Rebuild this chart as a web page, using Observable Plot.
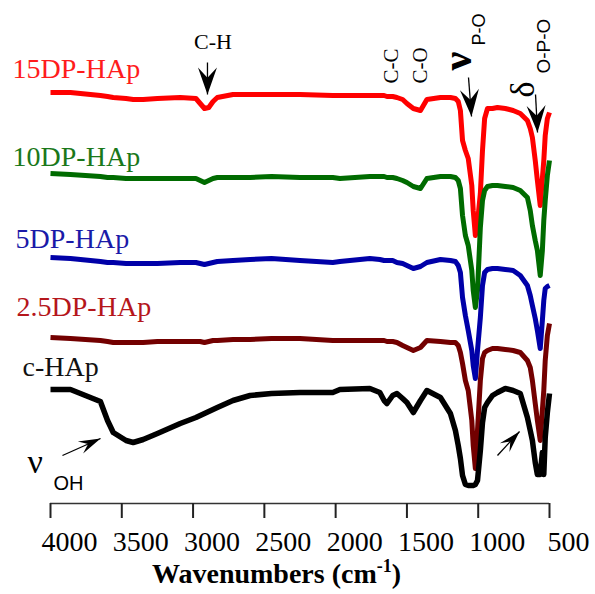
<!DOCTYPE html>
<html><head><meta charset="utf-8">
<script src="https://cdn.jsdelivr.net/npm/d3@7"></script>
<script src="https://cdn.jsdelivr.net/npm/@observablehq/plot@0.6"></script>
<style>html,body{margin:0;padding:0;background:#fff;} svg{display:block}</style>
</head><body><div id="chart"></div>
<script>
// FTIR spectra (transmittance, arbitrary offset units) vs wavenumber (cm-1)
const wavenumbers = [4000,3860,3650,3600,3560,3470,3420,3350,3250,3090,2980,2950,2920,2890,2860,2830,2720,2600,2450,2250,2020,1970,1760,1690,1660,1640,1600,1570,1530,1500,1455,1405,1360,1265,1195,1160,1140,1125,1110,1090,1070,1045,1035,1020,1005,985,970,955,935,900,865,810,755,705,655,635,620,600,585,565,550,540,530,515,500];

const t15DP = [82.2,82.2,81.6,81.4,81.2,81.0,80.8,80.8,81.0,81.2,81.0,80.0,79.0,79.2,80.4,81.2,81.8,81.8,81.8,81.8,81.6,81.6,81.6,81.6,81.6,81.4,81.4,81.2,80.8,80.0,79.0,78.6,80.8,81.2,81.2,81.0,80.4,78.6,72.6,70.6,69.0,63.6,58.6,53.6,56.2,62.0,70.6,77.0,79.0,79.0,79.2,79.0,78.6,78.0,76.6,75.0,73.2,68.6,64.6,59.6,65.0,68.6,73.6,77.0,78.2];
const t10DP = [66.0,65.8,65.4,65.2,65.2,65.0,65.0,65.0,65.0,65.0,65.0,64.6,64.2,64.6,65.0,65.2,65.2,65.2,65.4,65.2,65.2,65.0,65.4,65.4,65.4,65.2,65.2,65.0,64.6,64.2,63.4,63.0,65.0,65.4,65.4,65.2,64.6,63.0,57.6,53.6,51.6,46.6,42.6,39.2,42.6,55.2,60.6,62.6,63.4,63.6,63.6,63.4,63.2,62.6,61.2,58.6,55.6,52.6,50.6,45.6,50.6,56.6,60.6,65.6,68.6];
const t5DP = [49.2,49.0,48.4,48.2,48.2,48.0,48.0,48.0,48.0,48.2,48.2,48.0,47.8,48.0,48.2,48.4,48.6,48.8,49.0,48.6,48.2,48.4,49.0,48.8,48.6,48.6,48.6,48.2,48.0,47.6,47.0,47.4,48.2,48.8,48.6,48.4,47.6,46.2,41.2,37.6,34.6,30.6,27.6,25.0,30.6,37.2,43.6,46.2,46.8,47.0,47.0,46.8,46.6,45.6,43.6,41.6,39.6,37.0,34.6,31.0,36.6,40.6,43.0,43.4,43.6];
const t2p5DP = [33.2,33.0,32.6,32.4,32.2,32.2,32.2,32.2,32.4,32.4,32.4,32.4,32.2,32.4,32.6,32.6,32.8,32.8,33.0,33.0,32.6,32.6,32.6,32.6,32.6,32.4,32.4,32.2,31.6,31.2,30.6,31.2,32.6,32.4,32.2,32.2,31.6,30.2,28.0,24.6,22.6,16.6,11.6,7.0,14.6,24.6,29.0,30.2,30.6,31.0,31.0,30.8,30.6,30.2,28.6,27.2,24.6,20.0,16.6,12.6,18.6,22.6,28.6,33.6,36.0];
const tcHAp = [22.8,22.8,20.4,16.6,14.2,12.6,12.2,12.8,14.0,16.0,17.2,17.6,18.0,18.4,18.8,19.2,20.6,21.6,22.0,22.2,22.2,22.8,23.0,22.2,20.6,20.0,21.6,22.0,21.0,20.2,18.2,20.6,22.6,21.2,18.0,14.6,11.6,9.0,5.6,3.8,3.6,3.6,3.6,3.8,4.6,10.6,16.2,19.2,20.2,21.6,22.2,23.0,22.6,22.0,17.2,14.6,12.6,8.2,5.8,5.8,10.2,5.8,13.2,18.2,22.0];

const seriesNames = ["15DP-HAp","10DP-HAp","5DP-HAp","2.5DP-HAp","c-HAp"];
const seriesValues = [t15DP, t10DP, t5DP, t2p5DP, tcHAp];
const lineColors = ["#ff0000","#006b00","#0000a8","#730000","#000000"];
const labelColors = ["#ff1c1c","#1a781a","#1a1aa8","#b5161b","#111111"];
const labelWn = [4266, 4266, 4245, 4238, 4196];
const labelT = [85.2, 67.6, 51.2, 37.6, 25.6];
const xTicks = [4000,3500,3000,2500,2000,1500,1000,500];

const rows = seriesNames.flatMap((s, k) => wavenumbers.map((w, i) => ({wn: w, t: seriesValues[k][i], series: s})));
const labels = seriesNames.map((s, k) => ({wn: labelWn[k], t: labelT[k], text: s, color: labelColors[k]}));

function head(len, wid) {
  return (color, context) => {
    const doc = (context && context.document) || document;
    const m = d3.select(doc.createElementNS("http://www.w3.org/2000/svg", "marker"))
      .attr("viewBox", `${-len} ${-wid/2} ${len} ${wid}`)
      .attr("markerWidth", len).attr("markerHeight", wid)
      .attr("markerUnits", "userSpaceOnUse").attr("orient", "auto")
      .attr("refX", 0).attr("refY", 0).attr("overflow", "visible");
    m.append("path")
      .attr("d", `M0,0L${-len},${-wid/2}L${-len*0.62},0L${-len},${wid/2}Z`)
      .attr("fill", "#000").attr("stroke", "none");
    return m.node();
  };
}

const bigArrows = [
  {x1: 2899, y1: 88.2, x2: 2899, y2: 81.8},
  {x1: 1068, y1: 85.2, x2: 1047, y2: 77.4},
  {x1: 598, y1: 81.8, x2: 584, y2: 74.2}
];
const smallArrows = [
  {x1: 3916, y1: 9.6, x2: 3649, y2: 13.0},
  {x1: 865, y1: 9.6, x2: 710, y2: 14.4}
];

const serif = "'Liberation Serif', 'Times New Roman', serif";
const sans = "'Liberation Sans', Arial, sans-serif";

const marks = [];
seriesNames.forEach((s, k) => {
  marks.push(Plot.line(rows.filter(d => d.series === s), {
    x: "wn", y: "t", stroke: lineColors[k], strokeWidth: k === 4 ? 5.5 : 5,
    strokeLinejoin: "round", strokeLinecap: "butt", curve: "linear"
  }));
});
marks.push(
  Plot.text(labels, {x: "wn", y: "t", text: "text", fill: "color", fontSize: 28, fontFamily: serif, textAnchor: "start", lineAnchor: "bottom"}),
  Plot.text([{wn: 2860, t: 91.0, s: "C-H"}], {x: "wn", y: "t", text: "s", fontSize: 22, fontFamily: serif, textAnchor: "middle", lineAnchor: "bottom"}),
  Plot.text([{wn: 1566, t: 84.0, s: "C-C"}, {wn: 1356, t: 84.0, s: "C-O"}], {x: "wn", y: "t", text: "s", fontSize: 21, fontFamily: serif, rotate: -90, textAnchor: "start", lineAnchor: "bottom"}),
  Plot.text([{wn: 1054, t: 86.6, s: "ν"}], {x: "wn", y: "t", text: "s", fontSize: 42, fontWeight: "bold", fontFamily: serif, rotate: -90, textAnchor: "start", lineAnchor: "bottom"}),
  Plot.text([{wn: 949, t: 91.6, s: "P-O"}], {x: "wn", y: "t", text: "s", fontSize: 18, fontFamily: sans, rotate: -90, textAnchor: "start", lineAnchor: "bottom"}),
  Plot.text([{wn: 612, t: 81.2, s: "δ"}], {x: "wn", y: "t", text: "s", fontSize: 34, fontFamily: serif, rotate: -90, textAnchor: "start", lineAnchor: "bottom"}),
  Plot.text([{wn: 493, t: 86.0, s: "O-P-O"}], {x: "wn", y: "t", text: "s", fontSize: 19, fontFamily: sans, rotate: -90, textAnchor: "start", lineAnchor: "bottom"}),
  Plot.text([{wn: 4161, t: 6.2, s: "ν"}], {x: "wn", y: "t", text: "s", fontSize: 34, fontFamily: serif, textAnchor: "start", lineAnchor: "bottom"}),
  Plot.text([{wn: 3979, t: 2.8, s: "OH"}], {x: "wn", y: "t", text: "s", fontSize: 20, fontFamily: sans, textAnchor: "start", lineAnchor: "bottom"}),
  Plot.link(bigArrows, {x1: "x1", y1: "y1", x2: "x2", y2: "y2", stroke: "#000", strokeWidth: 1.3, markerEnd: head(27, 19)}),
  Plot.link(smallArrows, {x1: "x1", y1: "y1", x2: "x2", y2: "y2", stroke: "#000", strokeWidth: 1.3, markerEnd: head(22, 13)}),
  Plot.ruleY([0], {stroke: "#333", strokeWidth: 1.5}),
  // tick marks only
  Plot.axisX({ticks: xTicks, tickSize: 15, tickFormat: () => "", strokeWidth: 2, stroke: "#222", label: null}),
  // tick labels, set slightly right of their ticks as in the original
  Plot.axisX({ticks: xTicks, tickSize: 0, tickPadding: 28, tickFormat: d => String(d), fontSize: 28, fontFamily: serif, fill: "#000", dx: 19, label: null})
);

const chart = Plot.plot({
  width: 595, height: 594,
  marginLeft: 50, marginRight: 46, marginTop: 0, marginBottom: 91,
  style: {fontFamily: serif, background: "#fff", overflow: "visible"},
  x: {domain: [4000, 500]},
  y: {domain: [0, 100.6], axis: null},
  marks
});

// axis title with superscript
const t = d3.select(chart).append("text")
  .attr("x", 152).attr("y", 583).attr("text-anchor", "start")
  .attr("font-family", serif).attr("font-size", 28).attr("font-weight", "bold").attr("fill", "#000");
t.append("tspan").text("Wavenumbers (cm");
t.append("tspan").attr("font-size", 18).attr("dy", -11).text("-1");
t.append("tspan").attr("dy", 11).text(")");

document.getElementById("chart").appendChild(chart);
</script></body></html>
